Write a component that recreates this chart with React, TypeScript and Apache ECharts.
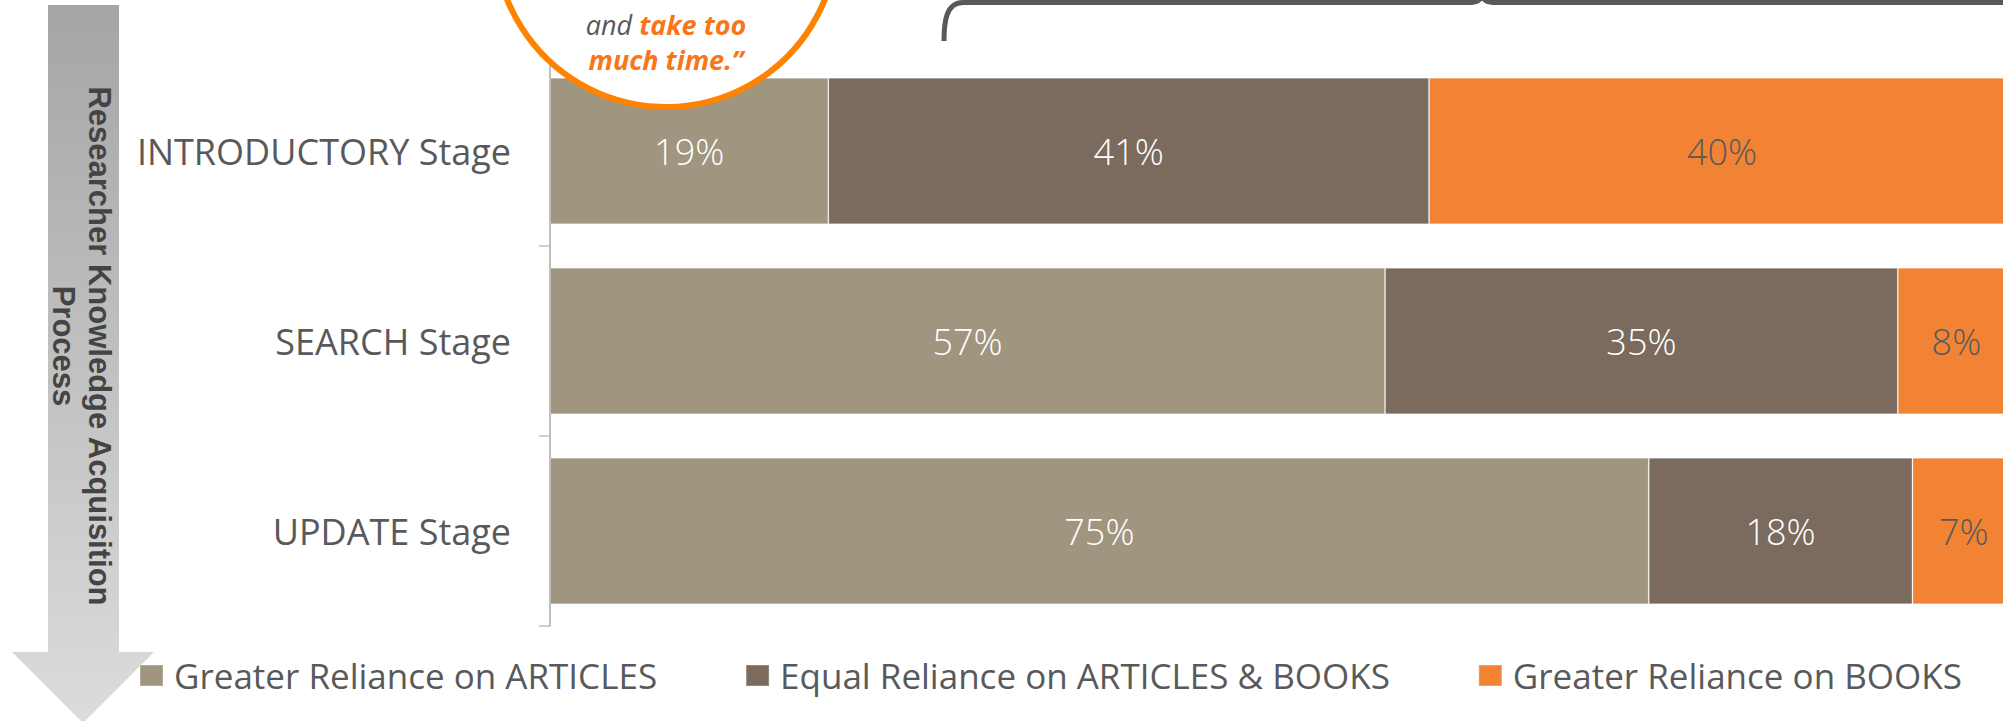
import React, { useEffect, useRef } from "react";
import * as echarts from "echarts";

const categories = ["INTRODUCTORY Stage", "SEARCH Stage", "UPDATE Stage"];
const seriesNames = [
  "Greater Reliance on ARTICLES",
  "Equal Reliance on ARTICLES & BOOKS",
  "Greater Reliance on BOOKS",
];
const articlesValues = [19, 57, 75];
const equalValues = [41, 35, 18];
const booksValues = [40, 8, 7];
const seriesColors = ["#A0957E", "#7B6A5E", "#F28335"];
const labelColors = ["#FFFFFF", "#FFFFFF", "#58595B"];
const sideTitle = "Researcher Knowledge Acquisition\nProcess";
const quoteLine1a = "and";
const quoteLine1b = "take too";
const quoteLine2 = "much time.\u201D";

const braceD =
  "M944 41 C944 22 946 2.5 963 2.5 L1468 2.5 C1477 2.5 1480 1 1482 -5 C1484 1 1487 2.5 1496 2.5 L2001 2.5 C2018 2.5 2020 22 2020 41";

echarts.graphic.registerShape("brace", echarts.graphic.extendPath(braceD, {}));

const FONT = "'Open Sans', 'Noto Sans', sans-serif";

export default function App() {
  const ref = useRef<HTMLDivElement>(null);
  useEffect(() => {
    if (!ref.current) return;
    const chart = echarts.init(ref.current, null, { renderer: "svg" });
    const values = [articlesValues, equalValues, booksValues];
    chart.setOption({
      animation: false,
      backgroundColor: "#FFFFFF",
      grid: { left: 550, top: 56, height: 570, width: 1465, containLabel: false },
      xAxis: { type: "value", min: 0, max: 100, show: false },
      yAxis: {
        type: "category",
        data: categories,
        inverse: true,
        axisLine: { show: true, lineStyle: { color: "#BFBFBF", width: 2 } },
        axisTick: { show: true, length: 11, lineStyle: { color: "#BFBFBF", width: 1.5 } },
        axisLabel: { margin: 39, fontSize: 36, color: "#58595B", fontFamily: FONT },
        splitLine: { show: false },
      },
      legend: {
        left: 139,
        top: 658,
        padding: 0,
        itemWidth: 23,
        itemHeight: 21,
        itemGap: 88,
        icon: "rect",
        textStyle: { fontSize: 35, color: "#58595B", fontFamily: FONT, padding: [0, 0, 0, 6] },
        data: seriesNames,
      },
      series: seriesNames.map((name, i) => ({
        name,
        type: "bar",
        stack: "total",
        barCategoryGap: "23%",
        data: values[i],
        itemStyle: { color: seriesColors[i], borderColor: "rgba(255,255,255,0.2)", borderWidth: 1 },
        label: {
          show: true,
          position: "inside",
          formatter: "{c}%",
          fontSize: 36,
          fontWeight: 300,
          fontFamily: FONT,
          color: labelColors[i],
        },
      })),
      graphic: [
        {
          type: "polygon",
          z: 50,
          shape: {
            points: [
              [48, 5],
              [119, 5],
              [119, 652],
              [154, 652],
              [83, 723],
              [12, 652],
              [48, 652],
            ],
          },
          style: {
            fill: new echarts.graphic.LinearGradient(0, 0, 0, 1, [
              { offset: 0, color: "#A5A5A5" },
              { offset: 1, color: "#DCDCDC" },
            ]),
          },
        },
        {
          type: "text",
          z: 51,
          x: 81,
          y: 346,
          rotation: -Math.PI / 2,
          style: {
            text: sideTitle,
            align: "center",
            verticalAlign: "middle",
            font: "bold 31px 'Liberation Sans', Arial, sans-serif",
            lineHeight: 36,
            fill: "#444444",
          },
        },
        {
          type: "circle",
          z: 60,
          shape: { cx: 666, cy: -64, r: 171 },
          style: { fill: "#FFFFFF", stroke: "#FF8200", lineWidth: 6 },
        },
        {
          type: "text",
          z: 61,
          x: 666,
          y: 42,
          style: {
            text: `{a|${quoteLine1a} }{b|${quoteLine1b}}\n{b|${quoteLine2}}`,
            align: "center",
            verticalAlign: "middle",
            rich: {
              a: {
                fontFamily: FONT,
                fontStyle: "italic",
                fontSize: 27,
                fontWeight: "normal",
                fill: "#58595B",
                lineHeight: 35,
              },
              b: {
                fontFamily: FONT,
                fontStyle: "italic",
                fontSize: 27,
                fontWeight: "bold",
                fill: "#F8761A",
                lineHeight: 35,
              },
            },
          },
        },
        {
          type: "brace",
          z: 55,
          style: { stroke: "#58595B", lineWidth: 5, fill: null },
        },
      ],
    });
    return () => chart.dispose();
  }, []);
  return (
    <div
      style={{ position: "absolute", left: 0, top: 0, width: 2003, height: 721, overflow: "hidden" }}
    >
      <div ref={ref} style={{ width: 2020, height: 721 }} />
    </div>
  );
}
